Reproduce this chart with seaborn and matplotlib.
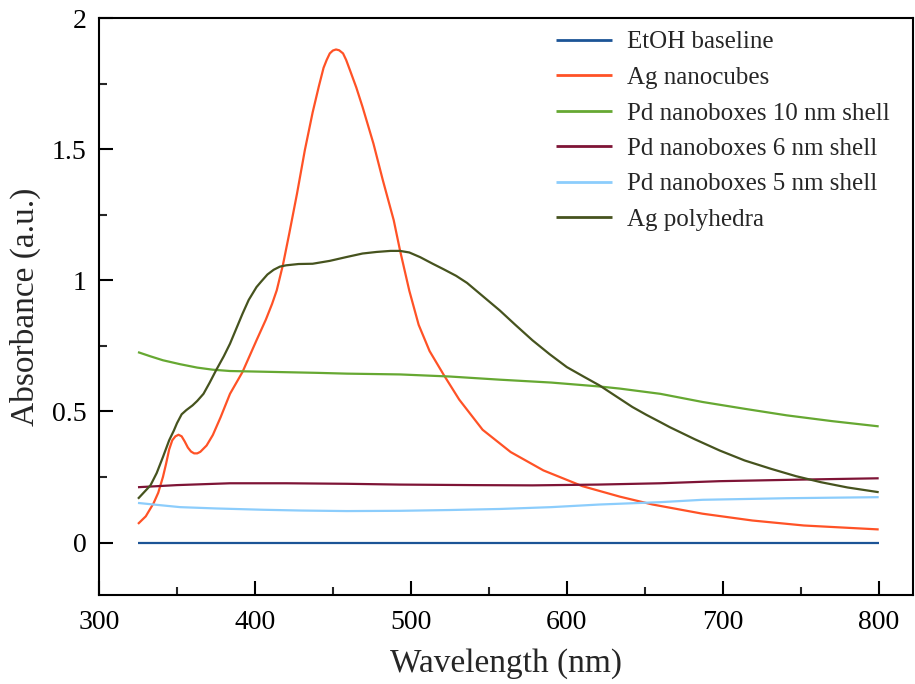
import matplotlib
matplotlib.use("Agg")
import matplotlib.pyplot as plt
import matplotlib.ticker as mticker
import numpy as np
import pandas as pd
import seaborn as sns

# ---------------- data ----------------
series_names = ["EtOH baseline", "Ag nanocubes", "Pd nanoboxes 10 nm shell",
                "Pd nanoboxes 6 nm shell", "Pd nanoboxes 5 nm shell", "Ag polyhedra"]

etoh_wl = [325, 800]
etoh_abs = [0.0, 0.0]

cubes_wl = [325, 330, 335, 338, 341, 343, 345, 347, 349, 351, 353, 355, 357, 359, 361,
            363, 365, 369, 373, 378, 384, 392, 401, 407, 411, 414, 418, 422, 427, 432,
            437, 441, 444, 446, 448, 450, 452, 454, 456.5, 458.5, 461, 465, 469, 476,
            482, 489, 493, 499, 505, 512, 521, 531, 546, 564, 585, 610, 634, 655, 687,
            719, 752, 800]
cubes_abs = [0.071, 0.10, 0.15, 0.19, 0.25, 0.30, 0.355, 0.39, 0.405, 0.411, 0.405,
             0.385, 0.362, 0.347, 0.340, 0.340, 0.346, 0.37, 0.41, 0.478, 0.567, 0.65,
             0.771, 0.85, 0.91, 0.962, 1.06, 1.178, 1.331, 1.496, 1.64, 1.74, 1.81, 1.84,
             1.865, 1.876, 1.88, 1.877, 1.865, 1.84, 1.80, 1.735, 1.661, 1.521, 1.382,
             1.229, 1.115, 0.96, 0.83, 0.73, 0.64, 0.545, 0.43, 0.345, 0.275, 0.215,
             0.175, 0.145, 0.11, 0.084, 0.065, 0.05]

pd10_wl = [325, 333, 341, 352, 363, 373, 384, 400, 416, 440, 459, 493, 525, 557, 590,
           621, 634, 660, 687, 714, 741, 770, 800]
pd10_abs = [0.726, 0.71, 0.695, 0.68, 0.667, 0.659, 0.654, 0.652, 0.65, 0.647, 0.644,
            0.641, 0.633, 0.621, 0.61, 0.595, 0.587, 0.567, 0.536, 0.51, 0.485, 0.463, 0.443]

pd6_wl = [325, 350, 384, 420, 459, 493, 540, 578, 620, 660, 698, 750, 800]
pd6_abs = [0.211, 0.219, 0.226, 0.226, 0.224, 0.221, 0.219, 0.218, 0.221, 0.226, 0.234,
           0.24, 0.245]

pd5_wl = [325, 340, 352, 375, 405, 430, 459, 493, 525, 557, 590, 621, 660, 687, 714,
          741, 770, 800]
pd5_abs = [0.151, 0.142, 0.135, 0.13, 0.125, 0.122, 0.12, 0.121, 0.124, 0.128, 0.135,
           0.145, 0.154, 0.163, 0.166, 0.169, 0.171, 0.173]

poly_wl = [325, 333, 337, 341, 345, 348, 350, 353, 356, 360, 363, 367, 371, 375, 380,
           384, 388, 392, 396, 401, 404, 408, 412, 416, 420, 428, 437, 448, 459, 469,
           478, 487, 493, 499, 506, 514, 521, 529, 536, 546, 557, 567, 578, 589, 600,
           611, 621, 632, 642, 651, 660, 666, 682, 698, 714, 731, 747, 763, 780, 800]
poly_abs = [0.167, 0.218, 0.265, 0.326, 0.39, 0.427, 0.455, 0.489, 0.505, 0.523, 0.54,
            0.567, 0.61, 0.656, 0.71, 0.758, 0.815, 0.872, 0.925, 0.974, 0.995, 1.022,
            1.04, 1.052, 1.057, 1.062, 1.063, 1.074, 1.089, 1.102, 1.108, 1.112, 1.112,
            1.106, 1.088, 1.063, 1.042, 1.017, 0.99, 0.94, 0.885, 0.83, 0.771, 0.718,
            0.669, 0.632, 0.599, 0.556, 0.517, 0.487, 0.459, 0.44, 0.394, 0.351, 0.313,
            0.281, 0.253, 0.23, 0.21, 0.192]

colors = ["#1c5496", "#ff5226", "#66a832", "#7e1436", "#8ccdfc", "#46531e"]

x_ticks = [300, 400, 500, 600, 700, 800]
y_ticks = [0, 0.5, 1, 1.5, 2]

# ---------------- assemble long table ----------------
all_wl = [etoh_wl, cubes_wl, pd10_wl, pd6_wl, pd5_wl, poly_wl]
all_abs = [etoh_abs, cubes_abs, pd10_abs, pd6_abs, pd5_abs, poly_abs]
frames = []
for name, w, a in zip(series_names, all_wl, all_abs):
    frames.append(pd.DataFrame({"Wavelength": w, "Absorbance": a, "Sample": name}))
df = pd.concat(frames, ignore_index=True)

sns.set_theme(style="ticks")
plt.rcParams["font.family"] = ["Liberation Serif", "DejaVu Serif"]

fig = plt.figure(figsize=(9.15, 6.84), dpi=100)
ax = fig.add_axes([99 / 915, 1 - 595 / 684, (913 - 99) / 915, (595 - 18) / 684])

sns.lineplot(data=df, x="Wavelength", y="Absorbance", hue="Sample",
             hue_order=series_names, palette=dict(zip(series_names, colors)),
             estimator=None, sort=False, linewidth=1.6, ax=ax)
for ln in ax.get_lines():
    ln.set_solid_joinstyle("round")
    ln.set_solid_capstyle("butt")

ax.set_xlim(300, 822)
ax.set_ylim(-0.2, 2.0)
ax.set_xticks(x_ticks)
ax.set_yticks(y_ticks)
ax.xaxis.set_minor_locator(mticker.MultipleLocator(50))
ax.yaxis.set_minor_locator(mticker.MultipleLocator(0.25))
ax.yaxis.set_major_formatter(mticker.FuncFormatter(lambda v, p: f"{v:g}"))

for s in ax.spines.values():
    s.set_linewidth(1.5)
    s.set_color("black")
    s.set_visible(True)

ax.tick_params(axis="both", which="major", direction="in", length=10, width=1.5,
               labelsize=20, colors="black", top=False, right=False)
ax.tick_params(axis="both", which="minor", direction="in", length=5.5, width=1.5,
               top=False, right=False)
ax.tick_params(axis="x", which="major", pad=11)
ax.tick_params(axis="y", which="major", pad=9)

ax.set_xlabel("Wavelength (nm)", fontsize=24, labelpad=9)
ax.set_ylabel("Absorbance (a.u.)", fontsize=24, labelpad=8)

leg = ax.legend(loc="upper left", bbox_to_anchor=(556 / 915, 1 - 31 / 684),
                bbox_transform=fig.transFigure, frameon=False, fontsize=18,
                handlelength=2.24, handletextpad=0.6, labelspacing=0.52,
                borderpad=0, borderaxespad=0)
for h in leg.get_lines():
    h.set_linewidth(2.0)

fig.savefig("out.png", dpi=100)
